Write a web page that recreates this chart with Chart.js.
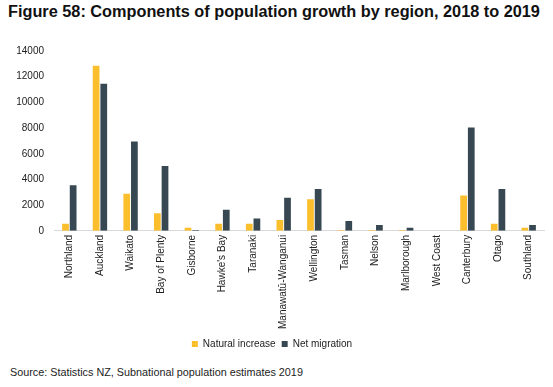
<!DOCTYPE html>
<html><head><meta charset="utf-8">
<script src="https://cdn.jsdelivr.net/npm/chart.js@4/dist/chart.umd.min.js"></script>
<style>
html,body{margin:0;padding:0;background:#fff;width:553px;height:387px;overflow:hidden;font-family:"Liberation Sans",Arial,sans-serif;}
#title{position:absolute;left:8px;top:2px;font-size:16.3px;font-weight:bold;color:#111;white-space:nowrap;}
#source{position:absolute;left:10px;top:366px;font-size:10.8px;color:#222;white-space:nowrap;}
#wrap{position:absolute;left:0;top:35px;width:553px;height:324px;}
</style></head><body>
<div id="title">Figure 58: Components of population growth by region, 2018 to 2019</div>
<div id="wrap"><canvas id="c"></canvas></div>
<div id="source">Source: Statistics NZ, Subnational population estimates 2019</div>
<script>
const regions = ["Northland","Auckland","Waikato","Bay of Plenty","Gisborne","Hawke's Bay","Taranaki","Manawatū-Wanganui","Wellington","Tasman","Nelson","Marlborough","West Coast","Canterbury","Otago","Southland"];
const naturalIncrease = [560,12850,2880,1380,250,560,560,840,2470,75,75,60,0,2750,560,250];
const netMigration = [3560,11450,6950,5040,75,1650,970,2570,3260,760,460,250,0,8040,3260,460];
const yTicks = [0,2000,4000,6000,8000,10000,12000,14000];

new Chart(document.getElementById('c'), {
  type: 'bar',
  data: {
    labels: regions,
    datasets: [
      {label: 'Natural increase', data: naturalIncrease, backgroundColor: '#FBBF2E', categoryPercentage: 0.5, barPercentage: 0.88},
      {label: 'Net migration', data: netMigration, backgroundColor: '#374852', categoryPercentage: 0.5, barPercentage: 0.88}
    ]
  },
  options: {
    responsive: true, maintainAspectRatio: false, animation: false,
    layout: {padding: {left: 0, right: 9, top: 2, bottom: 0}},
    plugins: {
      legend: {position: 'bottom', labels: {boxWidth: 6, boxHeight: 6, padding: 6, color: '#222', font: {size: 10, family: '"Liberation Sans", Arial, sans-serif'}}},
      tooltip: {enabled: false}
    },
    scales: {
      x: {
        grid: {display: false, drawTicks: false},
        border: {display: true, color: '#d9d9d9'},
        ticks: {minRotation: 90, maxRotation: 90, padding: 4, color: '#222', font: {size: 10, family: '"Liberation Sans", Arial, sans-serif'}}
      },
      y: {
        min: 0, max: 14000,
        afterBuildTicks: s => { s.ticks = yTicks.map(v => ({value: v})); },
        afterFit: s => { s.width = 54; },
        grid: {display: false, drawTicks: false},
        border: {display: false},
        ticks: {padding: 10, color: '#222', font: {size: 10, family: '"Liberation Sans", Arial, sans-serif'}, callback: v => String(v)}
      }
    }
  }
});
</script>
</body></html>
